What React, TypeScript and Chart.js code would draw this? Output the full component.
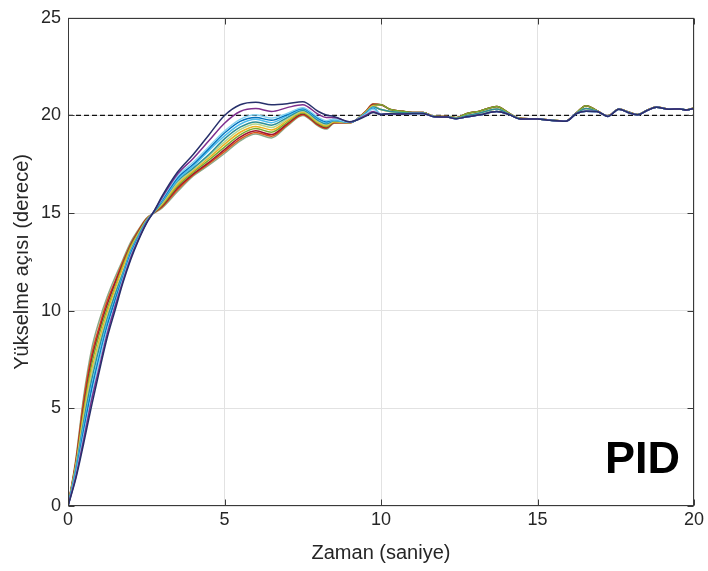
import React, { useEffect, useRef } from "react";
import { Chart, registerables } from "chart.js";

Chart.register(...registerables);

// ---- data ----
const HEAD_T = [0, 0.25, 0.5, 0.75, 1, 1.25, 1.5, 1.75, 2, 2.25, 2.5, 2.75, 3, 3.5, 4, 4.5, 5, 5.5, 6, 6.5, 7, 7.5, 8, 8.25, 8.5, 9, 9.5, 9.75];

const NAVY = [0, 1.4, 3.2, 5.1, 6.9, 8.6, 10.0, 11.4, 12.6, 13.6, 14.45, 15.1, 15.85, 17.1, 18.0, 19.0, 20.0, 20.55, 20.68, 20.55, 20.6, 20.7, 20.2, 20.02, 19.95, 19.68, 19.95, 20.15];
const PURPLE = [0, 1.5, 3.4, 5.4, 7.1, 8.8, 10.2, 11.5, 12.7, 13.65, 14.48, 15.1, 15.78, 17.0, 17.8, 18.7, 19.6, 20.2, 20.35, 20.2, 20.4, 20.55, 20.05, 19.9, 19.9, 19.67, 20.0, 20.2];
const LIGHTCYAN = [0, 1.6, 3.6, 5.6, 7.4, 9.0, 10.3, 11.6, 12.8, 13.7, 14.5, 15.1, 15.72, 16.9, 17.6, 18.4, 19.2, 19.8, 20.03, 19.87, 20.1, 20.4, 19.9, 19.73, 19.8, 19.66, 20.05, 20.33];
const BLUE = [0, 1.7, 3.85, 5.9, 7.6, 9.2, 10.5, 11.7, 12.9, 13.75, 14.52, 15.08, 15.66, 16.8, 17.5, 18.3, 19.1, 19.7, 19.9, 19.75, 20.05, 20.35, 19.85, 19.68, 19.8, 19.65, 20.07, 20.36];
const CYAN = [0, 1.8, 4.1, 6.1, 7.8, 9.4, 10.6, 11.8, 13.0, 13.8, 14.55, 15.08, 15.6, 16.7, 17.4, 18.2, 18.95, 19.55, 19.8, 19.63, 19.98, 20.32, 19.8, 19.63, 19.76, 19.65, 20.09, 20.39];
const TEAL = [0, 1.9, 4.3, 6.4, 8.1, 9.55, 10.8, 11.9, 13.05, 13.85, 14.58, 15.06, 15.55, 16.65, 17.3, 18.0, 18.8, 19.4, 19.67, 19.5, 19.89, 20.27, 19.74, 19.57, 19.73, 19.64, 20.1, 20.43];
const LIGHTGREEN = [0, 2.0, 4.5, 6.7, 8.3, 9.7, 10.9, 12.0, 13.1, 13.9, 14.6, 15.06, 15.5, 16.55, 17.24, 17.93, 18.65, 19.27, 19.56, 19.38, 19.81, 20.22, 19.68, 19.52, 19.71, 19.64, 20.12, 20.46];
const YELLOW = [0, 2.05, 4.7, 6.9, 8.5, 9.9, 11.1, 12.2, 13.2, 13.95, 14.62, 15.05, 15.45, 16.47, 17.16, 17.82, 18.52, 19.14, 19.44, 19.26, 19.73, 20.17, 19.63, 19.47, 19.68, 19.63, 20.14, 20.49];
const GREEN = [0, 2.1, 4.9, 7.2, 8.8, 10.1, 11.2, 12.3, 13.3, 14.0, 14.65, 15.04, 15.4, 16.38, 17.09, 17.71, 18.38, 19.01, 19.33, 19.14, 19.65, 20.12, 19.58, 19.42, 19.66, 19.63, 20.16, 20.52];
const RED = [0, 2.2, 5.1, 7.45, 9.0, 10.3, 11.4, 12.4, 13.35, 14.05, 14.68, 15.03, 15.35, 16.29, 17.01, 17.6, 18.25, 18.89, 19.21, 19.02, 19.57, 20.07, 19.53, 19.37, 19.64, 19.63, 20.18, 20.56];
const ORANGE = [0, 2.3, 5.4, 7.7, 9.2, 10.5, 11.5, 12.5, 13.4, 14.1, 14.7, 15.02, 15.3, 16.2, 16.96, 17.53, 18.15, 18.79, 19.13, 18.94, 19.51, 20.04, 19.49, 19.34, 19.62, 19.62, 20.19, 20.58];
const GRAYGREEN = [0, 2.4, 5.6, 8.0, 9.5, 10.7, 11.7, 12.6, 13.5, 14.15, 14.72, 15.0, 15.25, 16.1, 16.9, 17.45, 18.05, 18.7, 19.05, 18.85, 19.45, 20.0, 19.45, 19.3, 19.6, 19.62, 20.2, 20.6];

const TAIL_T = [10, 10.3, 10.7, 11, 11.35, 11.7, 12.1, 12.4, 12.75, 13.15, 13.7, 14.1, 14.45, 15, 15.4, 15.9, 16.25, 16.55, 16.9, 17.25, 17.6, 17.95, 18.2, 18.5, 18.8, 19.2, 19.55, 19.75, 20];
const TAIL_HIGH = [20.55, 20.3, 20.21, 20.15, 20.15, 19.95, 19.95, 19.88, 20.1, 20.22, 20.46, 20.1, 19.85, 19.82, 19.76, 19.72, 20.15, 20.5, 20.25, 19.98, 20.33, 20.15, 20.05, 20.27, 20.43, 20.33, 20.33, 20.28, 20.38];
const TAIL_MID = [20.3, 20.2, 20.14, 20.12, 20.12, 19.94, 19.93, 19.85, 20.0, 20.12, 20.33, 20.07, 19.83, 19.82, 19.75, 19.71, 20.12, 20.36, 20.22, 19.96, 20.32, 20.13, 20.04, 20.26, 20.42, 20.32, 20.33, 20.28, 20.37];
const TAIL_LOW = [20.05, 20.09, 20.07, 20.1, 20.1, 19.93, 19.92, 19.83, 19.93, 20.03, 20.2, 20.04, 19.82, 19.82, 19.75, 19.7, 20.1, 20.22, 20.2, 19.95, 20.32, 20.12, 20.03, 20.25, 20.42, 20.32, 20.33, 20.28, 20.36];

const HEADS = [NAVY, PURPLE, LIGHTCYAN, BLUE, CYAN, TEAL, LIGHTGREEN, YELLOW, GREEN, RED, ORANGE, GRAYGREEN];
const TAILS = [TAIL_LOW, TAIL_LOW, TAIL_LOW, TAIL_LOW, TAIL_LOW, TAIL_MID, TAIL_MID, TAIL_MID, TAIL_HIGH, TAIL_HIGH, TAIL_HIGH, TAIL_HIGH];
const COLORS = ["#27306B", "#7E2F8E", "#86D3F0", "#0072BD", "#4DBEEE", "#2D8E96", "#B4D68A", "#EDB120", "#77AC30", "#A2142F", "#D95319", "#8CAA88"];

const REF_X = [0, 20];
const REF_Y = [20, 20];

const X_TICKS = [0, 5, 10, 15, 20];
const Y_TICKS = [0, 5, 10, 15, 20, 25];

const X_TITLE = "Zaman (saniye)";
const Y_TITLE = "Yükselme açısı (derece)";
const BADGE = "PID";

const FONT = "'Liberation Sans', Arial, Helvetica, sans-serif";
const AXIS_COLOR = "#3a3a3a";
const TEXT_COLOR = "#262626";

const framePlugin = {
  id: "frame",
  afterDraw(chart: any) {
    const { ctx, chartArea: a, scales } = chart;
    const L = Math.round(a.left) + 0.5;
    const R = Math.round(a.right) - 0.5;
    const T = Math.round(a.top) + 0.5;
    const B = Math.round(a.bottom) - 0.5;
    ctx.save();
    ctx.strokeStyle = AXIS_COLOR;
    ctx.lineWidth = 1;
    ctx.strokeRect(L, T, R - L, B - T);
    const tl = 6;
    ctx.beginPath();
    X_TICKS.forEach((v) => {
      const px = Math.round(scales.x.getPixelForValue(v)) + 0.5;
      ctx.moveTo(px, B);
      ctx.lineTo(px, B - tl);
      ctx.moveTo(px, T);
      ctx.lineTo(px, T + tl);
    });
    Y_TICKS.forEach((v) => {
      const py = Math.round(scales.y.getPixelForValue(v)) + 0.5;
      ctx.moveTo(L, py);
      ctx.lineTo(L + tl, py);
      ctx.moveTo(R, py);
      ctx.lineTo(R - tl, py);
    });
    ctx.stroke();
    ctx.fillStyle = "#000";
    ctx.font = `bold 45px ${FONT}`;
    ctx.textAlign = "right";
    ctx.textBaseline = "alphabetic";
    ctx.fillText(BADGE, a.right - 14, a.bottom - 33);
    ctx.restore();
  },
};

export default function App() {
  const ref = useRef<HTMLCanvasElement | null>(null);

  useEffect(() => {
    document.body.style.margin = "0";
    const canvas = ref.current;
    if (!canvas) return;

    const datasets: any[] = HEADS.map((head, i) => {
      const pts = head.map((y, k) => ({ x: HEAD_T[k], y }));
      TAILS[i].forEach((y, k) => pts.push({ x: TAIL_T[k], y }));
      return {
        label: "s" + i,
        data: pts,
        borderColor: COLORS[i],
        borderWidth: 1.5,
        pointRadius: 0,
        fill: false,
        cubicInterpolationMode: "monotone",
      };
    });
    datasets.push({
      label: "ref",
      data: REF_X.map((x, k) => ({ x, y: REF_Y[k] })),
      borderColor: "#111",
      borderWidth: 1.3,
      borderDash: [5, 3],
      pointRadius: 0,
      fill: false,
    });

    const chart = new Chart(canvas, {
      type: "line",
      data: { datasets },
      options: {
        animation: false,
        responsive: false,
        layout: { padding: { left: 0, right: 14, top: 10, bottom: 0 } },
        plugins: { legend: { display: false }, tooltip: { enabled: false } },
        scales: {
          x: {
            type: "linear",
            min: 0,
            max: 20,
            afterBuildTicks: (s: any) => {
              s.ticks = X_TICKS.map((v) => ({ value: v }));
            },
            ticks: { font: { size: 18, family: FONT }, color: TEXT_COLOR, padding: 3, maxRotation: 0 },
            grid: { color: "#e2e2e2", drawTicks: false, lineWidth: 1 },
            border: { display: false },
            title: { display: true, text: X_TITLE, font: { size: 20, family: FONT }, color: TEXT_COLOR, padding: { top: 4, bottom: 6 } },
            afterFit: (s: any) => {
              s.height = 65;
            },
          },
          y: {
            type: "linear",
            min: 0,
            max: 25,
            afterBuildTicks: (s: any) => {
              s.ticks = Y_TICKS.map((v) => ({ value: v }));
            },
            ticks: { font: { size: 18, family: FONT }, color: TEXT_COLOR, padding: 7 },
            grid: { color: "#e2e2e2", drawTicks: false, lineWidth: 1 },
            border: { display: false },
            title: { display: true, text: Y_TITLE, font: { size: 20, family: FONT }, color: TEXT_COLOR, padding: { top: 10, bottom: 4 } },
            afterFit: (s: any) => {
              s.width = 68;
            },
          },
        },
      },
      plugins: [framePlugin],
    } as any);

    return () => chart.destroy();
  }, []);

  return <canvas ref={ref} width={708} height={571} style={{ display: "block" }} />;
}
